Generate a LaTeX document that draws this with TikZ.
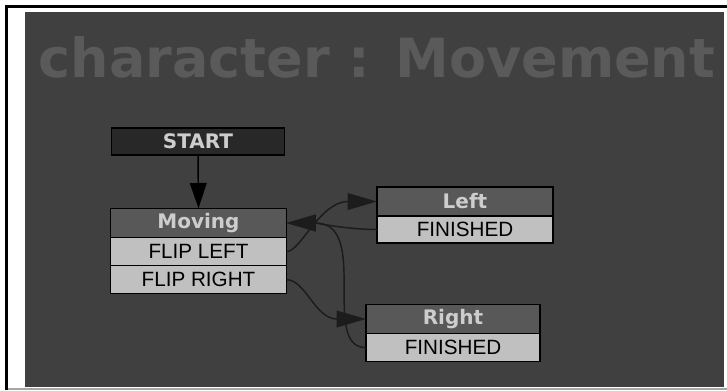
\documentclass[tikz,border=0pt]{standalone}
\usepackage{fontspec}
\newfontfamily\hdrfont{DejaVu Sans}
\newfontfamily\rowfont{Liberation Sans}
\usepackage{xcolor}
\definecolor{fsmpanel}{RGB}{64,64,64}
\definecolor{fsmtitle}{RGB}{90,90,90}
\definecolor{fsmhead}{RGB}{88,88,88}
\definecolor{fsmhtext}{RGB}{205,205,205}
\definecolor{fsmrow}{RGB}{192,192,192}
\definecolor{fsmstart}{RGB}{40,40,40}
\definecolor{fsmlink}{RGB}{28,28,28}
\usetikzlibrary{arrows.meta,positioning}

\tikzset{
  hdr/.style={draw=black, line width=1.2pt, fill=fsmhead, text=fsmhtext, outer sep=0pt, inner sep=0pt,
    minimum width=132pt, minimum height=22pt, font=\hdrfont\bfseries\fontsize{15}{18}\selectfont},
  row/.style={draw=black, line width=1.2pt, fill=fsmrow, text=black, outer sep=0pt, inner sep=0pt,
    minimum width=132pt, minimum height=21pt, font=\rowfont\fontsize{15.5}{18}\selectfont},
  link/.style={draw=fsmlink, line width=1.1pt, -{Triangle[length=22pt, width=12.5pt]}}
}

\begin{document}
\begin{tikzpicture}[x=0.75pt, y=-0.75pt]
  \useasboundingbox (0,0) rectangle (727,390);
  \fill[white] (0,0) rectangle (727,390);

  %--- Frame and panel ---
  \fill[black] (5,5) rectangle (727,7.5);
  \fill[black] (5,5) rectangle (7.5,390);
  \fill[fsmpanel] (25,12) rectangle (724,387);
  \fill[gray!70] (7.5,387.5) rectangle (727,390);

  \node[anchor=base, font=\hdrfont\bfseries\fontsize{40.5}{48}\selectfont, text=fsmtitle] (title) at (377,77) {character : Movement};

  % Start event
  \node[hdr, fill=fsmstart, minimum width=129.5pt, minimum height=20pt] (start) at (198,141.5) {START};

  % State: Moving
  \node[hdr] (moving) at (198.5,223) {Moving};
  \node[row, below=0pt of moving] (flipL) {FLIP LEFT};
  \node[row, below=0pt of flipL] (flipR) {FLIP RIGHT};

  % State: Left
  \node[hdr, minimum height=21.5pt] (left) at (465,201.5) {Left};
  \node[row, minimum height=20.5pt, below=0pt of left] (leftFin) {FINISHED};

  % State: Right
  \node[hdr, minimum width=130.5pt] (right) at (453,319) {Right};
  \node[row, minimum width=130.5pt, below=0pt of right] (rightFin) {FINISHED};

  %--- Transitions ---
  \draw[link, draw=black, -{Triangle[length=19pt, width=12.5pt]}] (start.south) -- (moving.north);
  \draw[link] (flipL.east) .. controls +(14,0) and +(-57,0) .. (left.west);
  \draw[link] (leftFin.west) .. controls +(-30,0) and +(30,0) .. (moving.east);
  \draw[link] (flipR.east) .. controls +(19,0) and +(-51,0) .. (right.west);
  \draw[link] (rightFin.west) .. controls +(-46,0) and +(84,0) .. (moving.east);
\end{tikzpicture}
\end{document}
